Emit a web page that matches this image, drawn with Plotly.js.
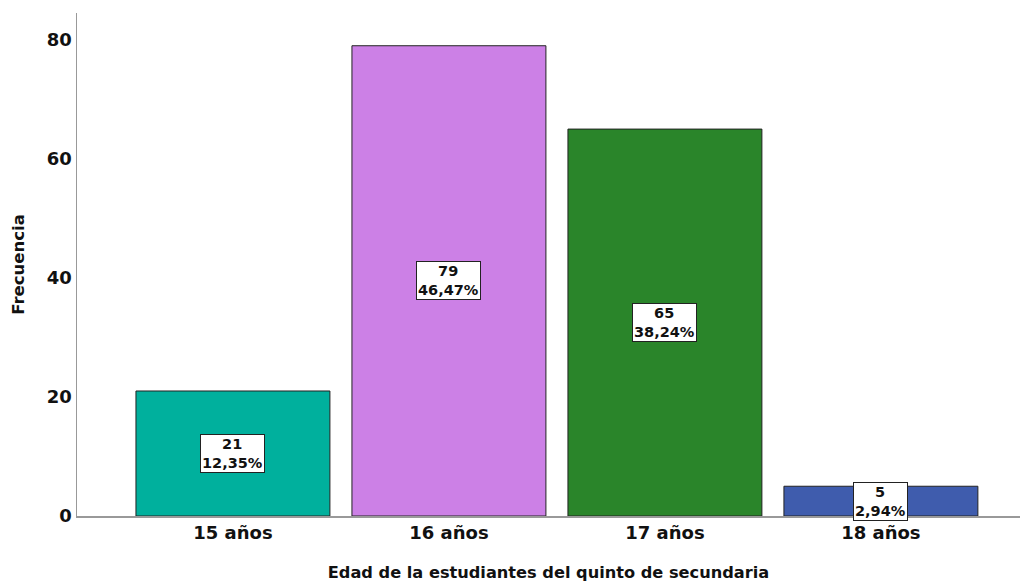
<!DOCTYPE html>
<html>
<head>
<meta charset="utf-8">
<script src="https://cdn.plot.ly/plotly-3.0.1.min.js"></script>
<style>html,body{margin:0;padding:0;background:#fff;}#chart{width:1023px;height:583px;}</style>
</head>
<body>
<div id="chart"></div>
<script>
const categories = ["15 años", "16 años", "17 años", "18 años"];
const counts = [21, 79, 65, 5];
const percents = ["12,35%", "46,47%", "38,24%", "2,94%"];
const colors = ["#00B09D", "#CC80E6", "#2A852A", "#3F5CAD"];

const trace = {
  type: "bar",
  x: categories,
  y: counts,
  marker: {color: colors, line: {color: "#222222", width: 1}},
  hoverinfo: "none"
};

const annotations = categories.map((c, i) => ({
  x: c, y: counts[i] / 2, xref: "x", yref: "y",
  text: "<b>" + counts[i] + "<br>" + percents[i] + "</b>",
  showarrow: false,
  bgcolor: "#ffffff",
  bordercolor: "#222222",
  borderwidth: 1,
  borderpad: 1,
  font: {family: "DejaVu Sans", size: 14.5, color: "#111"}
}));

const layout = {
  width: 1023, height: 583,
  margin: {l: 77, r: 3, t: 13, b: 67},
  paper_bgcolor: "#fff", plot_bgcolor: "#fff",
  showlegend: false,
  bargap: 0.102,
  xaxis: {
    type: "category",
    range: [-0.722, 3.644],
    showline: true, linecolor: "#999", linewidth: 1.5,
    ticks: "", showgrid: false, zeroline: false,
    tickfont: {family: "DejaVu Sans", size: 18, color: "#111", weight: "bold"},
    title: {text: "<b>Edad de la estudiantes del quinto de secundaria</b>", font: {family: "DejaVu Sans", size: 16.2, color: "#111"}, standoff: 24}
  },
  yaxis: {
    range: [0, 84.5],
    tickvals: [0, 20, 40, 60, 80],
    showline: true, linecolor: "#999", linewidth: 1.5,
    ticks: "", showgrid: false, zeroline: false,
    tickfont: {family: "DejaVu Sans", size: 18, color: "#111", weight: "bold"},
    title: {text: "<b>Frecuencia</b>", font: {family: "DejaVu Sans", size: 16.5, color: "#111"}, standoff: 18}
  },
  annotations: annotations
};

Plotly.newPlot("chart", [trace], layout, {displayModeBar: false, staticPlot: true});
</script>
</body>
</html>
